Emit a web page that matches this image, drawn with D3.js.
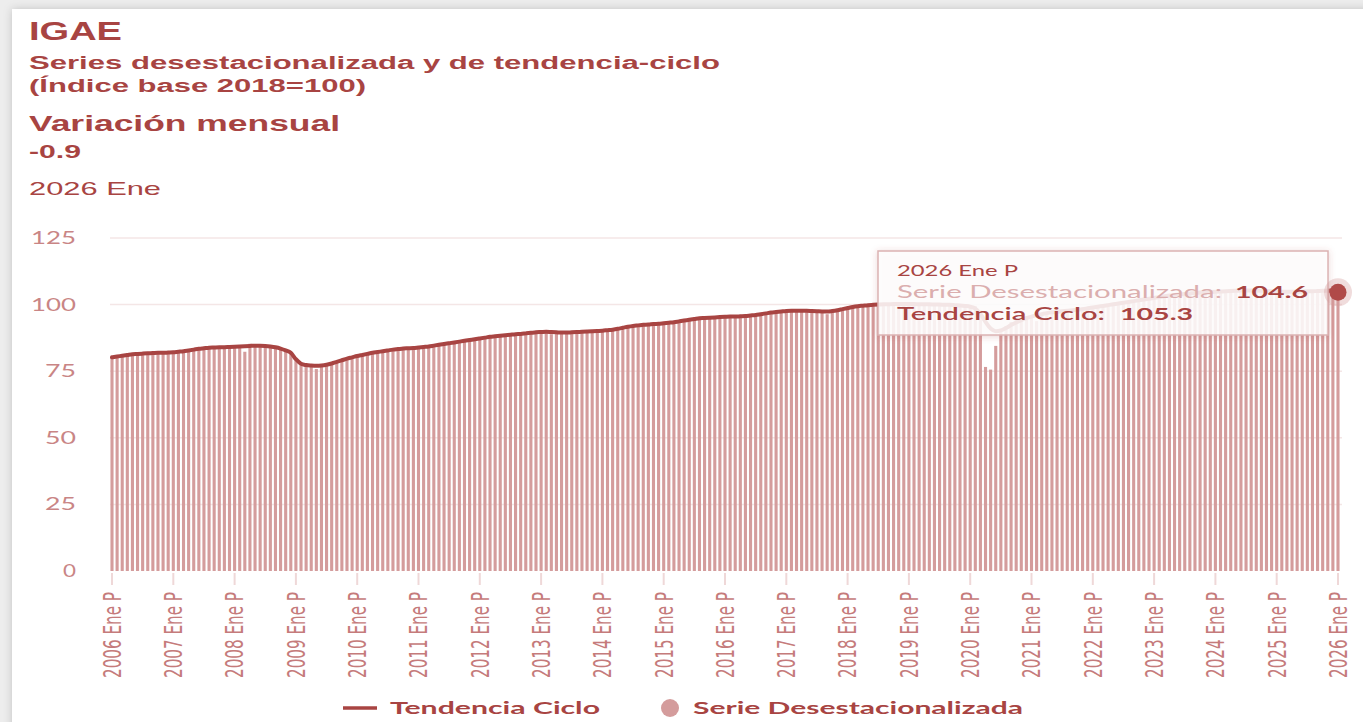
<!DOCTYPE html>
<html><head><meta charset="utf-8">
<script src="https://cdn.jsdelivr.net/npm/d3@7"></script>
<style>
html,body{margin:0;padding:0;background:#eeeeee;overflow:hidden;}
svg{display:block;}
</style></head>
<body><svg id="c" width="1363" height="722"></svg>
<script>
// ---------- DATA ----------
const startYear = 2006;
const yTicks = [0, 25, 50, 75, 100, 125];
const xTickYears = [2006,2007,2008,2009,2010,2011,2012,2013,2014,2015,2016,2017,2018,2019,2020,2021,2022,2023,2024,2025,2026];
const monthAbbr = ["Ene","Feb","Mar","Abr","May","Jun","Jul","Ago","Sep","Oct","Nov","Dic"];

// Tendencia-Ciclo, monthly 2006 Ene .. 2026 Ene
const tendencia = [
 80.2,80.5,80.8,81.1,81.4,81.5,81.6,81.7,81.8,81.9,81.9,82.0,
 82.1,82.3,82.5,82.8,83.1,83.4,83.6,83.8,83.9,84.0,84.0,84.1,
 84.2,84.3,84.4,84.5,84.6,84.6,84.5,84.3,84.0,83.5,82.8,81.9,
 79.5,77.8,77.3,77.1,77.0,77.1,77.4,77.9,78.5,79.1,79.7,80.2,
 80.7,81.1,81.5,81.9,82.2,82.5,82.8,83.1,83.3,83.5,83.6,83.7,
 83.9,84.1,84.3,84.6,84.9,85.2,85.5,85.8,86.1,86.4,86.7,87.0,
 87.3,87.6,87.9,88.1,88.3,88.5,88.7,88.9,89.0,89.2,89.4,89.6,
 89.7,89.8,89.7,89.6,89.5,89.5,89.6,89.7,89.8,89.9,90.0,90.1,
 90.2,90.4,90.6,90.9,91.3,91.7,92.0,92.2,92.4,92.5,92.7,92.8,
 93.0,93.2,93.4,93.7,94.0,94.3,94.6,94.9,95.0,95.1,95.2,95.3,
 95.4,95.5,95.5,95.6,95.7,95.9,96.1,96.4,96.7,97.0,97.2,97.4,
 97.6,97.7,97.7,97.7,97.7,97.6,97.5,97.4,97.4,97.6,97.9,98.3,
 98.7,99.1,99.4,99.6,99.8,99.9,100.0,100.1,100.1,100.2,100.2,100.2,
 100.2,100.2,100.1,100.1,100.1,100.0,100.0,99.9,99.9,99.8,99.7,99.5,
 99.2,98.5,96.5,93.5,91.0,90.0,90.3,91.2,92.3,93.3,94.2,94.9,
 95.5,96.0,96.4,96.8,97.1,97.3,97.5,97.7,97.9,98.1,98.3,98.6,
 98.9,99.2,99.5,99.8,100.1,100.4,100.7,101.0,101.3,101.6,101.9,102.2,
 102.5,102.8,103.1,103.4,103.6,103.8,104.0,104.2,104.4,104.5,104.6,104.7,
 104.8,104.9,105.0,105.1,105.2,105.3,105.3,105.3,105.3,105.2,105.1,105.0,
 104.9,104.8,104.8,104.8,104.8,104.9,105.0,105.0,105.1,105.2,105.2,105.3,
 105.3
];

// Serie desestacionalizada, monthly 2006 Ene .. 2026 Ene
const desestacionalizada = [
 80.0,80.4,80.9,80.7,81.6,81.3,81.5,81.9,81.6,82.0,81.8,81.9,
 81.8,82.5,82.3,82.6,83.2,83.3,83.7,83.8,83.7,84.3,83.9,84.0,
 84.4,84.5,82.3,85.3,84.6,84.5,84.8,84.1,83.6,83.9,82.5,81.5,
 79.2,78.0,77.6,76.9,75.8,77.4,77.9,77.7,78.7,79.4,79.5,80.4,
 80.5,81.0,81.8,81.6,82.3,82.6,82.9,82.8,83.4,83.6,83.4,83.9,
 84.0,84.0,84.5,84.2,85.1,85.3,85.4,85.9,86.3,86.2,86.9,87.0,
 87.2,87.8,87.6,88.3,88.5,88.2,88.9,88.8,89.1,89.3,89.2,89.8,
 89.5,89.8,88.9,90.0,89.3,89.6,89.4,89.9,89.6,90.2,90.0,90.0,
 89.8,90.6,90.5,91.0,91.4,91.5,92.1,92.3,92.4,92.7,92.6,92.9,
 93.0,93.1,93.6,93.5,94.1,94.2,94.8,95.0,94.9,95.3,95.0,95.2,
 95.6,95.7,95.2,95.8,95.5,96.0,95.9,96.5,96.8,96.9,97.4,97.3,
 97.8,97.5,97.8,97.9,97.6,97.7,97.4,97.5,96.4,97.8,98.1,98.4,
 98.6,99.2,99.3,99.8,99.7,100.0,100.1,100.0,100.3,100.2,100.1,100.4,
 100.1,100.3,99.9,100.2,99.8,100.1,99.8,100.0,99.7,99.5,99.9,99.3,
 99.6,99.5,97.8,76.6,75.6,84.5,89.9,92.0,93.5,95.1,95.4,95.6,
 95.0,93.8,96.9,97.3,97.3,98.1,97.8,97.7,96.7,98.6,99.0,98.9,
 99.2,99.5,99.6,100.0,100.4,100.2,100.8,101.2,101.4,101.5,102.0,102.0,
 102.4,102.9,103.3,103.3,103.7,104.0,104.0,104.4,104.3,104.8,104.5,104.6,
 104.7,105.3,104.6,105.4,105.0,105.4,105.1,105.6,105.0,105.4,104.8,104.9,
 105.0,104.4,105.2,104.6,105.0,104.9,104.8,105.3,104.9,105.6,105.5,105.5,
 104.6
];

const titleText = "IGAE";
const subtitle1 = "Series desestacionalizada y de tendencia-ciclo";
const subtitle2 = "(Índice base 2018=100)";
const varTitle = "Variación mensual";
const varValue = "-0.9";
const periodLabel = "2026 Ene";
const legendNames = ["Tendencia Ciclo", "Serie Desestacionalizada"];

// ---------- DRAW ----------
const svg = d3.select("#c");
const W = 1363, H = 722;
const C = {dark:"#a84442", bar:"#d49c9c", ylab:"#c98585", xlab:"#c57b7b", grid:"#f4e6e6", tick:"#efd8d8"};

const defs = svg.append("defs");
const f = defs.append("filter").attr("id","sh").attr("x","-5%").attr("y","-5%").attr("width","110%").attr("height","110%");
f.append("feDropShadow").attr("dx",0).attr("dy",0).attr("stdDeviation",4).attr("flood-color","#000").attr("flood-opacity",0.18);
const f2 = defs.append("filter").attr("id","sh2").attr("x","-10%").attr("y","-20%").attr("width","120%").attr("height","140%");
f2.append("feDropShadow").attr("dx",0).attr("dy",1).attr("stdDeviation",3).attr("flood-color","#a84442").attr("flood-opacity",0.25);

svg.append("rect").attr("width",W).attr("height",H).attr("fill","#ededed");
svg.append("rect").attr("x",12).attr("y",9).attr("width",W).attr("height",H).attr("fill","#fff").attr("filter","url(#sh)");

// helper: text stretched to a given width
function stext(g, x, y, str, width, size, weight, fill, family){
  return g.append("text").attr("x",x).attr("y",y).text(str)
    .attr("font-family", family || "'Liberation Sans', Arial, sans-serif")
    .attr("font-size", size).attr("font-weight", weight).attr("fill", fill)
    .attr("textLength", width).attr("lengthAdjust","spacingAndGlyphs");
}

// Titles
stext(svg, 29, 39.5, titleText, 93, 25, "bold", C.dark);
stext(svg, 29, 69, subtitle1, 691, 18, "bold", C.dark);
stext(svg, 29, 91.5, subtitle2, 337, 18, "bold", C.dark);
stext(svg, 29, 131, varTitle, 311, 22, "bold", C.dark);
stext(svg, 29, 158, varValue, 52, 18, "bold", C.dark);
stext(svg, 29, 195, periodLabel, 132, 19, "normal", C.dark);

// Scales
const n = tendencia.length;
const x = d3.scaleLinear().domain([0, n-1]).range([112, 1338]);
const y = d3.scaleLinear().domain([0, 125]).range([571, 238]);

// grid
const gGrid = svg.append("g");
gGrid.selectAll("line").data(yTicks.filter(d=>d>0)).join("line")
  .attr("x1",110).attr("x2",1342).attr("y1",d=>y(d)).attr("y2",d=>y(d))
  .attr("stroke",C.grid).attr("stroke-width",1.5);

// y labels
const yLabW = {0:13, 25:31, 50:31, 75:31, 100:45, 125:45};
yTicks.forEach(t=>{
  stext(svg, 76 - yLabW[t], y(t)+6, String(t), yLabW[t], 17, "normal", C.ylab, "Lato, 'Open Sans', sans-serif");
});

// bars
const bw = 3.1;
svg.append("g").selectAll("rect").data(desestacionalizada).join("rect")
  .attr("x",(d,i)=>x(i)-bw/2).attr("width",bw)
  .attr("y",d=>y(d)).attr("height",d=>y(0)-y(d))
  .attr("fill",C.bar);

// trend line
const line = d3.line().x((d,i)=>x(i)).y(d=>y(d)).curve(d3.curveMonotoneX);
svg.append("path").datum(tendencia).attr("d",line)
  .attr("fill","none").attr("stroke",C.dark).attr("stroke-width",4).attr("stroke-linejoin","round").attr("stroke-linecap","round");

// x ticks + labels
const gx = svg.append("g");
xTickYears.forEach(yr=>{
  const i = (yr - startYear)*12;
  const xp = x(i);
  gx.append("line").attr("x1",xp).attr("x2",xp).attr("y1",573).attr("y2",585)
    .attr("stroke",C.tick).attr("stroke-width",2);
  gx.append("text")
    .attr("transform",`translate(${xp},592) scale(1.3,1) rotate(-90)`)
    .attr("text-anchor","end").attr("dy","0.36em")
    .attr("font-family","'Liberation Sans Narrow', 'DejaVu Sans Condensed', sans-serif")
    .attr("font-size",19).attr("fill",C.xlab)
    .attr("textLength",86).attr("lengthAdjust","spacingAndGlyphs")
    .text(`${yr} ${monthAbbr[0]} P`);
});

// tooltip
const last = n-1;
const tt = svg.append("g");
tt.append("rect").attr("x",878).attr("y",251).attr("width",450).attr("height",84)
  .attr("fill","#fff").attr("fill-opacity",0.85).attr("stroke","#dcb3b3").attr("stroke-width",1.5)
  .attr("filter","url(#sh2)");
const lastYear = startYear + Math.floor(last/12);
const fam2 = "Lato, 'Open Sans', sans-serif";
stext(tt, 897, 276, `${lastYear} ${monthAbbr[last%12]} P`, 121, 15, "normal", C.dark, fam2);
stext(tt, 897, 298, "Serie Desestacionalizada:", 325, 17.5, "normal", "#dbaeae", fam2);
stext(tt, 1235, 298, desestacionalizada[last].toFixed(1), 73, 17.5, "bold", C.dark, fam2);
stext(tt, 897, 320, "Tendencia Ciclo:", 208, 17.5, "600", C.dark, fam2);
stext(tt, 1120, 320, tendencia[last].toFixed(1), 73, 17.5, "bold", C.dark, fam2);

// highlighted point
svg.append("circle").attr("cx",x(last)).attr("cy",y(desestacionalizada[last]))
  .attr("r",14).attr("fill",C.bar).attr("fill-opacity",0.35);
svg.append("circle").attr("cx",x(last)).attr("cy",y(desestacionalizada[last]))
  .attr("r",8.5).attr("fill","#b04a48");

// legend
const lg = svg.append("g");
lg.append("line").attr("x1",343).attr("x2",377).attr("y1",708).attr("y2",708)
  .attr("stroke",C.dark).attr("stroke-width",3.5);
stext(lg, 390, 714, legendNames[0], 210, 17, "bold", C.dark, fam2);
lg.append("circle").attr("cx",670).attr("cy",708).attr("r",9).attr("fill",C.bar);
stext(lg, 693, 714, legendNames[1], 330, 17, "bold", C.dark, fam2);
</script>
</body></html>
